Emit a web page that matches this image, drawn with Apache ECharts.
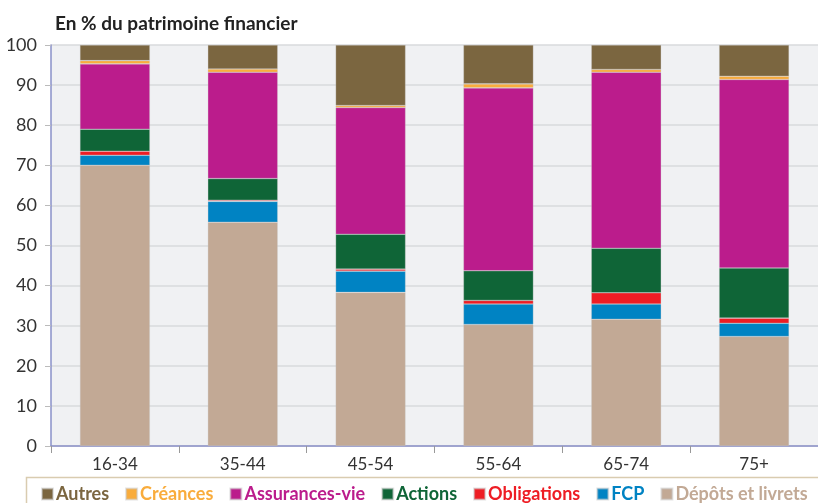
<!DOCTYPE html>
<html>
<head>
<meta charset="utf-8">
<script src="https://cdn.jsdelivr.net/npm/echarts@6/dist/echarts.min.js"></script>
<style>
  html, body { margin: 0; padding: 0; background: #fff; }
  #chart { width: 818px; height: 503px; }
</style>
</head>
<body>
<div id="chart"></div>
<script>
// Age groups and asset shares (% of financial wealth), bottom of stack first
const ageGroups = ['16-34', '35-44', '45-54', '55-64', '65-74', '75+'];
const depots      = [70.0, 55.8, 38.3, 30.3, 31.6, 27.3];
const fcp         = [2.5, 5.2, 5.3, 5.1, 3.8, 3.3];
const obligations = [1.0, 0.3, 0.5, 0.9, 2.8, 1.3];
const actions     = [5.5, 5.4, 8.7, 7.4, 11.1, 12.5];
const assurances  = [16.3, 26.5, 31.6, 45.6, 43.9, 47.0];
const creances    = [0.8, 0.8, 0.5, 1.0, 0.7, 0.8];
const autres      = [3.9, 6.0, 15.1, 9.7, 6.1, 7.8];

const legendOrder = ['Autres', 'Créances', 'Assurances-vie', 'Actions', 'Obligations', 'FCP', 'Dépôts et livrets'];

const colors = {
    'Dépôts et livrets': '#c2a995',
    'FCP': '#0083c3',
    'Obligations': '#ee1d24',
    'Actions': '#0f6537',
    'Assurances-vie': '#bb1c8c',
    'Créances': '#f9ac3c',
    'Autres': '#7b6640'
};

const stackSeries = [
    ['Dépôts et livrets', depots],
    ['FCP', fcp],
    ['Obligations', obligations],
    ['Actions', actions],
    ['Assurances-vie', assurances],
    ['Créances', creances],
    ['Autres', autres]
];

const chart = echarts.init(document.getElementById('chart'));

const option = {
    animation: false,
    textStyle: { fontFamily: 'Lato, sans-serif' },
    title: {
        text: 'En % du patrimoine financier',
        left: 50,
        top: 9,
        textStyle: { fontSize: 19, fontWeight: 'bold', color: '#222', fontFamily: 'Lato, sans-serif' }
    },
    graphic: [{
        type: 'rect',
        shape: { x: 26.5, y: 477.5, width: 820, height: 40 },
        style: { fill: 'none', stroke: '#d9ccb0', lineWidth: 1.5 },
        silent: true
    }],
    legend: {
        data: legendOrder.map(name => ({
            name: name,
            icon: 'rect',
            textStyle: { color: colors[name] }
        })),
        left: 36,
        top: 480,
        width: 900,
        itemWidth: 11,
        itemHeight: 11,
        itemGap: 16,
        textStyle: { fontSize: 18, fontWeight: 'bold', fontFamily: 'Lato, sans-serif', padding: [0, 0, 0, -2] }
    },
    grid: {
        left: 51,
        right: -6,
        top: 45,
        bottom: 57,
        show: true,
        backgroundColor: '#f0f1f3',
        borderWidth: 0
    },
    xAxis: {
        type: 'category',
        data: ageGroups,
        axisLine: { lineStyle: { color: '#8a90c8', width: 1.5 } },
        axisTick: { show: true, length: 7, lineStyle: { color: '#999' } },
        axisLabel: { color: '#333', fontSize: 17, margin: 10 }
    },
    yAxis: {
        type: 'value',
        min: 0,
        max: 100,
        interval: 10,
        axisLine: { show: true, lineStyle: { color: '#8a90c8', width: 1.5 } },
        axisTick: { show: true, length: 6, lineStyle: { color: '#bbb' } },
        splitLine: { lineStyle: { color: '#d9dadd', width: 1.5 } },
        axisLabel: { color: '#333', fontSize: 18, margin: 14 }
    },
    series: stackSeries.map(([name, values]) => ({
        name: name,
        type: 'bar',
        stack: 'total',
        barWidth: 70,
        data: values,
        itemStyle: {
            color: colors[name],
            borderColor: 'rgba(200,200,200,0.5)',
            borderWidth: 0.6
        }
    }))
};

chart.setOption(option);
</script>
</body>
</html>
